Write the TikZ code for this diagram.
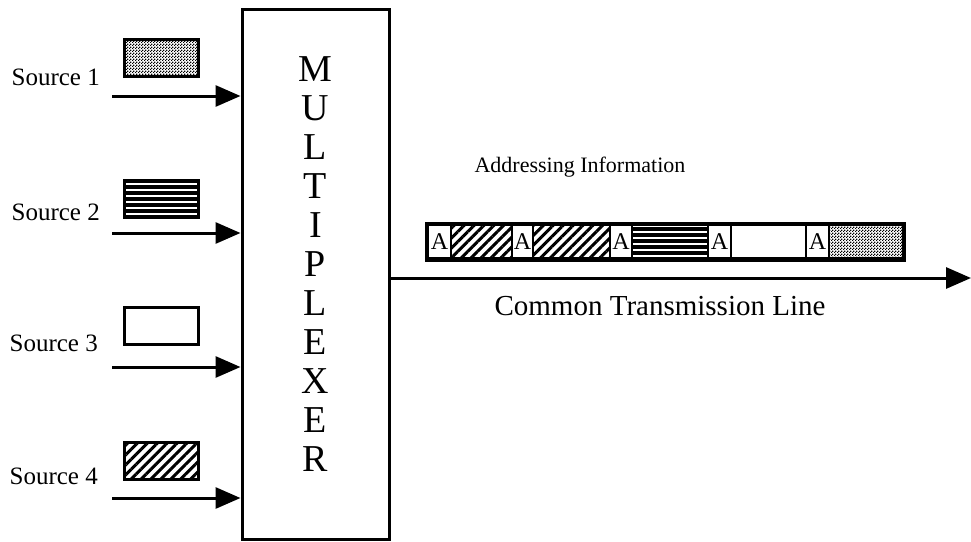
\documentclass[tikz,border=0pt]{standalone}
\usepackage{fontspec}
\setmainfont{Liberation Serif}
\usetikzlibrary{arrows.meta}
\usetikzlibrary{patterns}
\usetikzlibrary{patterns.meta}
\usetikzlibrary{positioning}

\pgfdeclarepatternformonly{finechecker}{\pgfpointorigin}{\pgfqpoint{3pt}{3pt}}{\pgfqpoint{3pt}{3pt}}{
  \pgfpathrectangle{\pgfpointorigin}{\pgfqpoint{1.5pt}{1.5pt}}
  \pgfpathrectangle{\pgfqpoint{1.5pt}{1.5pt}}{\pgfqpoint{1.5pt}{1.5pt}}
  \pgfusepath{fill}
}

\tikzset{
  feed/.style={line width=3pt,-{Triangle[length=25pt,width=21pt]}},
  swatch/.style={draw,line width=3pt,minimum width=74pt,minimum height=37pt,inner sep=0pt},
  srclabel/.style={anchor=east,inner sep=0pt,font=\fontsize{25}{30}\selectfont},
  cell/.style={draw,line width=1.2pt,minimum height=33pt,inner sep=0pt,outer sep=0pt},
  acell/.style={cell,fill=white,minimum width=22pt,font=\fontsize{24}{26}\selectfont},
  checker/.style={pattern=finechecker},
  hatched/.style={pattern={Lines[angle=45,distance=7pt,line width=3pt]}},
  striped/.style={pattern={Lines[angle=0,distance=6pt,line width=3.5pt]}},
}

\begin{document}
\begin{tikzpicture}[x=1pt,y=-1pt]
  \useasboundingbox (0,0) rectangle (971,541);
  \node[draw,line width=3pt,minimum width=147pt,minimum height=530pt,inner sep=0pt] (mux) at (315.5,274) {};
  \node[align=center,inner sep=0pt,font=\fontsize{38}{39}\selectfont] (muxlbl) at ([yshift=9.5pt]mux.center) {M\\U\\L\\T\\I\\P\\L\\E\\X\\E\\R};

  \node[srclabel] (src1) at (100,77) {Source 1};
  \node[swatch,checker] (sw1) at (161.5,58) {};
  \coordinate (in1) at (112,96);
  \draw[feed] (in1) -- (in1 -| mux.west);

  \node[srclabel] (src2) at (100,212) {Source 2};
  \node[swatch,striped] (sw2) at (161.5,198.5) {};
  \coordinate (in2) at (112,233);
  \draw[feed] (in2) -- (in2 -| mux.west);

  \node[srclabel] (src3) at (98,343) {Source 3};
  \node[swatch] (sw3) at (161.5,326) {};
  \coordinate (in3) at (112,367);
  \draw[feed] (in3) -- (in3 -| mux.west);

  \node[srclabel] (src4) at (98,476) {Source 4};
  \node[swatch,hatched] (sw4) at (161.5,461) {};
  \coordinate (in4) at (112,498);
  \draw[feed] (in4) -- (in4 -| mux.west);

  \node[draw,line width=3pt,minimum width=478pt,minimum height=37pt,inner sep=0pt] (packet) at (665,241.5) {};
  \node[acell,minimum width=23pt,anchor=west] (a1) at (428,241.5) {A};
  \node[cell,hatched,minimum width=61pt,right=0pt of a1] (d1) {};
  \node[acell,minimum width=21pt,right=0pt of d1] (a2) {A};
  \node[cell,hatched,minimum width=77pt,right=0pt of a2] (d2) {};
  \node[acell,right=0pt of d2] (a3) {A};
  \node[cell,striped,minimum width=76pt,right=0pt of a3] (d3) {};
  \node[acell,minimum width=23pt,right=0pt of d3] (a4) {A};
  \node[cell,minimum width=75pt,right=0pt of a4] (d4) {};
  \node[acell,minimum width=23pt,right=0pt of d4] (a5) {A};
  \node[cell,checker,minimum width=74pt,right=0pt of a5] (d5) {};

  \node[font=\fontsize{22}{26}\selectfont] (addr) at (580,167) {Addressing Information};
  \coordinate (out) at (971,278);
  \draw[feed] (mux.east |- out) -- (out);
  \node[font=\fontsize{29}{32}\selectfont] (txline) at (660,306) {Common Transmission Line};
\end{tikzpicture}
\end{document}
